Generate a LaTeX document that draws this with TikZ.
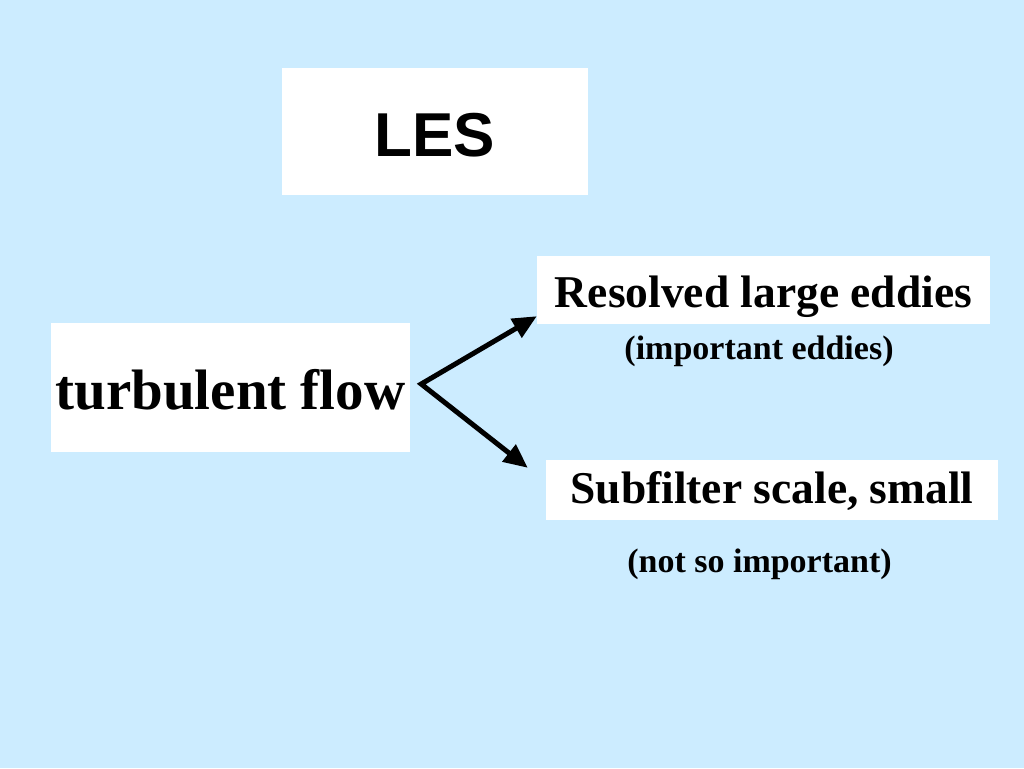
\documentclass[tikz,border=0pt]{standalone}
\usepackage{fontspec}
\setmainfont{Liberation Serif}
\setsansfont{Liberation Sans}
\usepackage{xcolor}
\usetikzlibrary{positioning,arrows.meta,calc}
\definecolor{slidebg}{RGB}{204,236,255}

\begin{document}
\begin{tikzpicture}[
  x=1pt, y=-1pt,
  box/.style={rectangle, fill=white, inner sep=0pt, text depth=0pt},
  title/.style={font=\sffamily\bfseries\fontsize{62}{70}\selectfont},
  big/.style={font=\bfseries\fontsize{57}{64}\selectfont},
  mid/.style={font=\bfseries\fontsize{45.5}{52}\selectfont},
  note/.style={font=\bfseries\fontsize{34}{40}\selectfont},
  arrow/.style={{Triangle[length=24pt,width=21pt]}-{Triangle[length=24pt,width=21pt]}, line width=5pt}
]
  % Background
  \fill[slidebg] (0,0) rectangle (1024,768);
  \useasboundingbox (0,0) rectangle (1024,768);

  % Nodes
  \node[box, title, text height=50pt, minimum width=306pt, minimum height=127pt] (les) at (435,131.5) {LES};
  \node[box, big, text height=43pt, minimum width=359pt, minimum height=129pt] (flow) at (230.5,387.5) {turbulent flow};
  \node[box, mid, text height=34.6pt, minimum width=453pt, minimum height=68pt] (res) at (763.5,290) {Resolved large eddies};
  \node[note] (resnote) at (759,351) {(important eddies)};
  \node[box, mid, text height=28.6pt, minimum width=452pt, minimum height=60pt] (sub) at (772,489.5) {Subfilter scale, small};
  \node[note] (subnote) at (759.5,564.5) {(not so important)};

  % Arrows
  \coordinate (fork) at ($(flow.east)+(11,-3.5)$);
  \coordinate (restip) at ($(res.south west)+(0,-8)$);
  \coordinate (subtip) at ($(sub.north west)+(-18,8.5)$);
  \draw[arrow] (restip) -- (fork) -- (subtip);

\end{tikzpicture}
\end{document}
